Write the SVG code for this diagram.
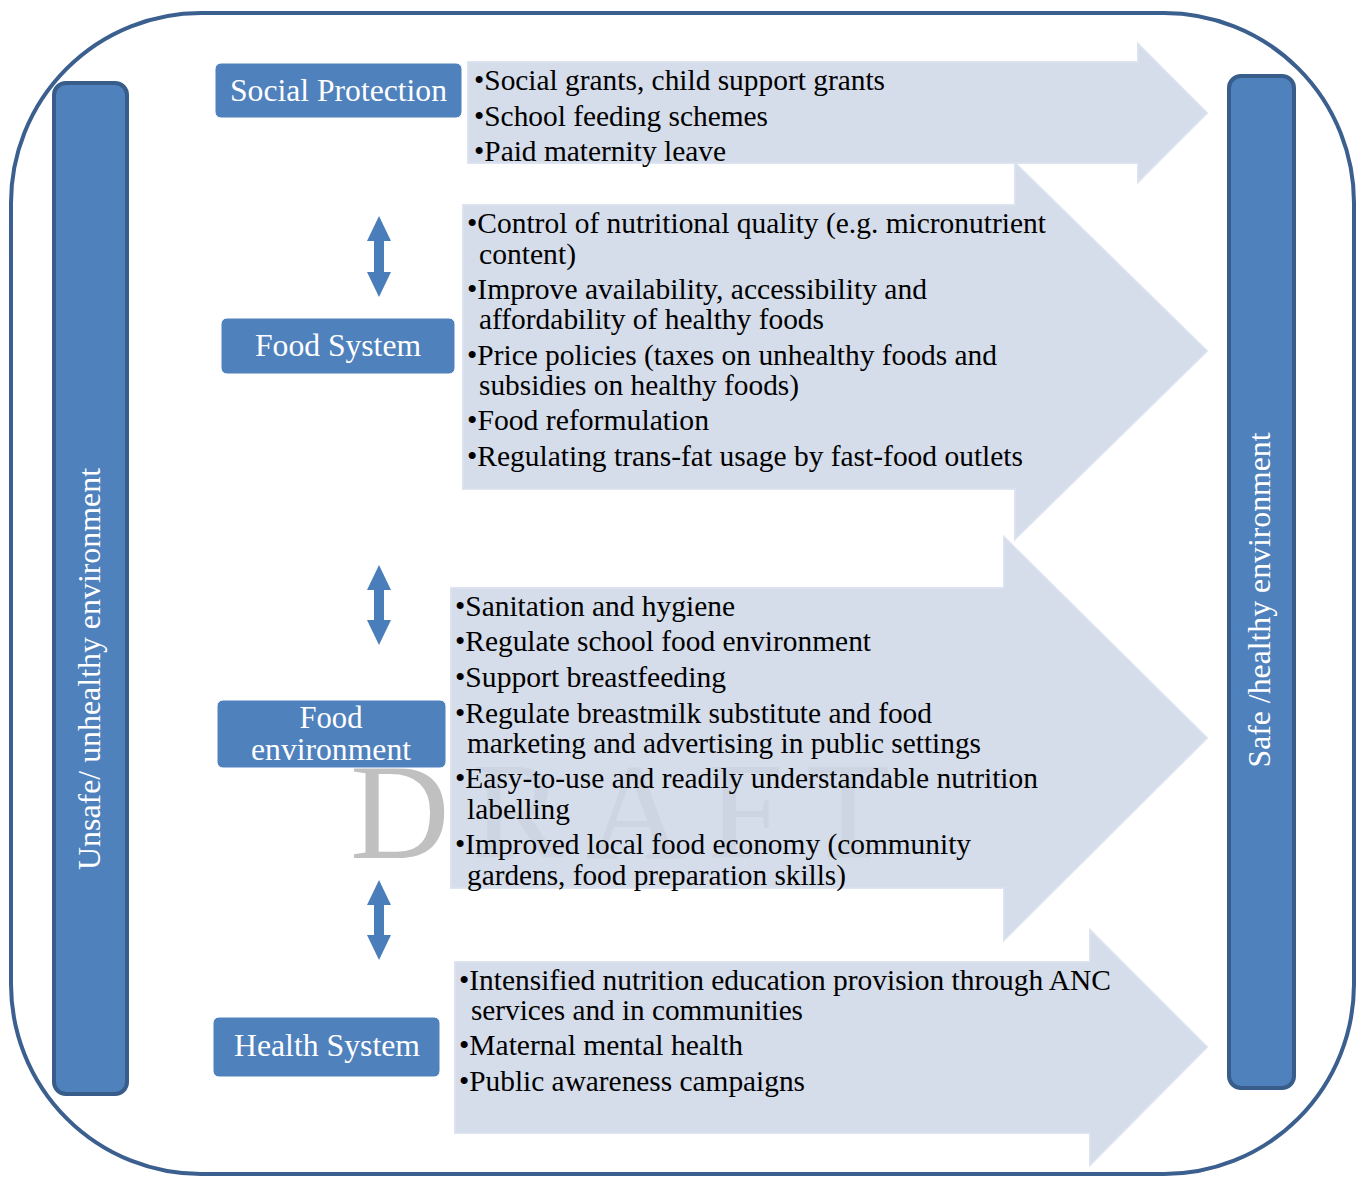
<svg xmlns="http://www.w3.org/2000/svg" width="1362" height="1177" viewBox="0 0 1362 1177">
<style>
.bar{fill:#4f81bd;stroke:#385d8a;stroke-width:4}
.node{fill:#4f81bd;stroke:#ffffff;stroke-width:1}
.lbl{font-family:"Liberation Serif","Times New Roman",serif;font-size:32px;fill:#ffffff}
.big{fill:#cfd7e7;fill-opacity:0.87;stroke:#d9e0ee;stroke-opacity:0.87;stroke-width:2}
.t{font-family:"Liberation Serif","Times New Roman",serif;font-size:30px;fill:#000000}
.dbl{fill:#4a7ebb}
.wm{font-family:"Liberation Serif","Times New Roman",serif;font-size:138px;fill:#c0c0c0;letter-spacing:22px}
</style>
<rect id="frame" x="11" y="13" width="1343" height="1161" rx="190" ry="190" fill="#ffffff" stroke="#3b5f8e" stroke-width="4"/>
<g id="unsafe-bar">
<rect class="bar" x="54" y="83" width="73" height="1011" rx="12"/>
<text class="lbl" transform="translate(100,669) rotate(-90)" text-anchor="middle" textLength="402" lengthAdjust="spacingAndGlyphs">Unsafe/ unhealthy environment</text>
</g>
<g id="safe-bar">
<rect class="bar" x="1229" y="76" width="65" height="1012" rx="12"/>
<text class="lbl" transform="translate(1270,600) rotate(-90)" text-anchor="middle" textLength="335" lengthAdjust="spacingAndGlyphs">Safe /healthy environment</text>
</g>
<text id="watermark" class="wm" x="350" y="858">DRAFT</text>
<g id="connectors">
<polygon class="dbl" points="379,216 391,241 384,241 384,272 391,272 379,297 367,272 374,272 374,241 367,241"/>
<polygon class="dbl" points="379,565 391,590 384,590 384,620 391,620 379,645 367,620 374,620 374,590 367,590"/>
<polygon class="dbl" points="379,880 391,905 384,905 384,935 391,935 379,960 367,935 374,935 374,905 367,905"/>
</g>
<g id="arrow-social">
<path class="big" d="M468,62 H1138 V44 L1207,113 L1138,182 V163 H468 Z"/>
<text class="t" x="474" y="90" textLength="411" lengthAdjust="spacingAndGlyphs">•Social grants, child support grants</text>
<text class="t" x="474" y="126" textLength="294" lengthAdjust="spacingAndGlyphs">•School feeding schemes</text>
<text class="t" x="474" y="161" textLength="252" lengthAdjust="spacingAndGlyphs">•Paid maternity leave</text>
</g>
<g id="arrow-foodsystem">
<path class="big" d="M463,205 H1015 V163 L1207,351 L1015,539 V489 H463 Z"/>
<text class="t" x="467" y="233" textLength="579" lengthAdjust="spacingAndGlyphs">•Control of nutritional quality (e.g. micronutrient</text>
<text class="t" x="479" y="264" textLength="97" lengthAdjust="spacingAndGlyphs">content)</text>
<text class="t" x="467" y="299" textLength="460" lengthAdjust="spacingAndGlyphs">•Improve availability, accessibility and</text>
<text class="t" x="479" y="329" textLength="345" lengthAdjust="spacingAndGlyphs">affordability of healthy foods</text>
<text class="t" x="467" y="365" textLength="530" lengthAdjust="spacingAndGlyphs">•Price policies (taxes on unhealthy foods and</text>
<text class="t" x="479" y="395" textLength="320" lengthAdjust="spacingAndGlyphs">subsidies on healthy foods)</text>
<text class="t" x="467" y="430" textLength="242" lengthAdjust="spacingAndGlyphs">•Food reformulation</text>
<text class="t" x="467" y="466" textLength="556" lengthAdjust="spacingAndGlyphs">•Regulating trans-fat usage by fast-food outlets</text>
</g>
<g id="arrow-foodenv">
<path class="big" d="M451,588 H1004 V537 L1207,738 L1004,940 V888 H451 Z"/>
<text class="t" x="455" y="616" textLength="280" lengthAdjust="spacingAndGlyphs">•Sanitation and hygiene</text>
<text class="t" x="455" y="651" textLength="416" lengthAdjust="spacingAndGlyphs">•Regulate school food environment</text>
<text class="t" x="455" y="687" textLength="271" lengthAdjust="spacingAndGlyphs">•Support breastfeeding</text>
<text class="t" x="455" y="723" textLength="477" lengthAdjust="spacingAndGlyphs">•Regulate breastmilk substitute and food</text>
<text class="t" x="467" y="753" textLength="514" lengthAdjust="spacingAndGlyphs">marketing and advertising in public settings</text>
<text class="t" x="455" y="788" textLength="583" lengthAdjust="spacingAndGlyphs">•Easy-to-use and readily understandable nutrition</text>
<text class="t" x="467" y="819" textLength="103" lengthAdjust="spacingAndGlyphs">labelling</text>
<text class="t" x="455" y="854" textLength="516" lengthAdjust="spacingAndGlyphs">•Improved local food economy (community</text>
<text class="t" x="467" y="885" textLength="379" lengthAdjust="spacingAndGlyphs">gardens, food preparation skills)</text>
</g>
<g id="arrow-health">
<path class="big" d="M455,962 H1090 V930 L1207,1047 L1090,1165 V1133 H455 Z"/>
<text class="t" x="459" y="990" textLength="652" lengthAdjust="spacingAndGlyphs">•Intensified nutrition education provision through ANC</text>
<text class="t" x="471" y="1020" textLength="332" lengthAdjust="spacingAndGlyphs">services and in communities</text>
<text class="t" x="459" y="1055" textLength="284" lengthAdjust="spacingAndGlyphs">•Maternal mental health</text>
<text class="t" x="459" y="1091" textLength="346" lengthAdjust="spacingAndGlyphs">•Public awareness campaigns</text>
</g>
<g id="node-social">
<rect class="node" x="215" y="63" width="247" height="55" rx="6"/>
<text class="lbl" x="338.5" y="101" text-anchor="middle" textLength="217" lengthAdjust="spacingAndGlyphs">Social Protection</text>
</g>
<g id="node-foodsystem">
<rect class="node" x="221" y="318" width="234" height="56" rx="6"/>
<text class="lbl" x="338" y="356" text-anchor="middle" textLength="166" lengthAdjust="spacingAndGlyphs">Food System</text>
</g>
<g id="node-foodenv">
<rect class="node" x="217" y="700" width="229" height="68" rx="6"/>
<text class="lbl" x="331" y="728" text-anchor="middle" textLength="63" lengthAdjust="spacingAndGlyphs">Food</text>
<text class="lbl" x="331" y="760" text-anchor="middle" textLength="160" lengthAdjust="spacingAndGlyphs">environment</text>
</g>
<g id="node-health">
<rect class="node" x="213" y="1017" width="227" height="60" rx="6"/>
<text class="lbl" x="327" y="1056" text-anchor="middle" textLength="186" lengthAdjust="spacingAndGlyphs">Health System</text>
</g>
</svg>
